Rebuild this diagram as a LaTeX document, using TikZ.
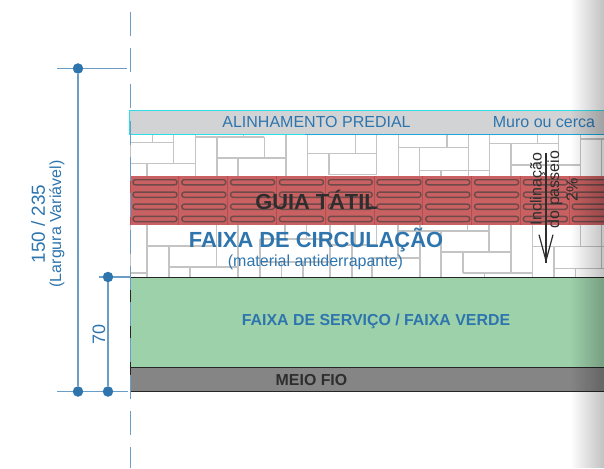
\documentclass[tikz,border=0pt]{standalone}
\usepackage{fontspec}
\setmainfont{Liberation Sans}
\usetikzlibrary{arrows.meta,fadings}

\definecolor{dimblue}{HTML}{2E75AE}
\definecolor{dimline}{HTML}{6A9DC8}
\definecolor{muroGray}{HTML}{D1D3D4}
\definecolor{muroEdge}{HTML}{2FDDE8}
\definecolor{muroEdgeb}{HTML}{1AA9DD}
\definecolor{jointGray}{HTML}{C4C4C4}
\definecolor{guiaRed}{HTML}{C96061}
\definecolor{guiaDark}{HTML}{B04E50}
\definecolor{pillEdge}{HTML}{6E4A4B}
\definecolor{verdeFill}{HTML}{9DD1AA}
\definecolor{meioGray}{HTML}{858585}
\definecolor{darkText}{HTML}{2E2E2E}

\tikzfading[name=pageedge, left color=transparent!100, right color=transparent!76]

\tikzset{
    dimdot/.style={circle, fill=dimblue, inner sep=0pt, minimum size=10.5pt},
    dimthin/.style={dimline, line width=1.1pt},
    joint/.style={jointGray, line width=1.2pt},
    pill/.style={pillEdge, line width=1.4pt, rounded corners=2.4pt},
    labelblue/.style={text=dimblue, inner sep=0pt},
    labeldark/.style={text=darkText, inner sep=0pt},
    slopetext/.style={text=darkText, inner sep=0pt, rotate=90, font=\fontsize{16}{16}\selectfont},
}

\begin{document}
\begin{tikzpicture}[x=1pt, y=-1pt]
    \useasboundingbox (0,0) rectangle (604,468);

    % Paving joints, upper band
    \foreach \xa/\ya/\yb in {130.5/134/277, 152.3/134/142, 173.3/134/163.5, 147/163.5/176, 195.5/134/176, 243.3/134/137,
        217/137/176, 264.3/137/158, 286/134/176, 238/158/176, 307.7/134/176, 355.7/134/153.3, 329/153.3/174.5,
        376.7/134/174.5, 398.3/134/176, 447/134/147.7, 468.3/134/176, 419.7/147.7/176, 441/170.7/176,
        489.3/134/176, 537.7/134/143.7, 511/143.7/176, 558.3/134/165, 580.5/134/176, 601.5/139/176}
        \draw[joint] (\xa,\ya) -- (\xa,\yb);
    \foreach \ya/\xa/\xb in {142.3/130/173.3, 163.5/130/195.5, 137/195.5/264.3, 158/217/286, 153.3/307.7/376.7,
        174.5/329/376.7, 147.7/398.3/468.3, 170.7/419.7/489.3, 143.7/489.3/558.3, 165/511/580.5, 139/580.5/604}
        \draw[joint] (\xa,\ya) -- (\xb,\ya);

    % Paving joints, lower band
    \foreach \xa/\ya/\yb in {147/225/277, 169/246/277, 190/267/277, 216.7/225/267, 238/225/277, 260/239/277,
        281.7/262/277, 303/262/277, 285/225/239, 306.7/225/239, 330/225/277, 352/245/277, 372/258/277, 355/225/245,
        376.7/225/245, 398/225/258, 420/225/277, 441/231/277, 467.7/225/231, 489/225/252, 463/252/273,
        484.7/273/277, 511/225/273, 532.7/225/277, 580.5/225/246.7, 554/246.7/277, 575.7/268.7/277, 601.5/225/268.7}
        \draw[joint] (\xa,\ya) -- (\xa,\yb);
    \foreach \ya/\xa/\xb in {273/130/147, 246/147/216.7, 267/169/238, 239/260/330, 262/260/330, 245/330/376.7,
        258/372/420, 231/398/489, 252/441/511, 273/463/532.7, 246.7/532.7/604, 268.7/554/604}
        \draw[joint] (\xa,\ya) -- (\xb,\ya);

    % Tactile band
    \fill[guiaRed] (130,176) rectangle (604,225);
    \foreach \k in {0,...,9} {
        \draw[guiaDark, line width=0.8pt] ({130+48.8*\k},176) -- ({130+48.8*\k},225);
        \foreach \ypill in {182.3,194.7,206.7,219}
            \draw[pill] ({133+48.8*\k},\ypill-2.6) rectangle ({177+48.8*\k},\ypill+2.6);
    }

    % Bands
    \draw[muroEdge, fill=muroGray, line width=1pt] (129.5,110.5) rectangle (610,134);
    \draw[muroEdgeb, line width=1pt] (305,134) -- (604,134);
    \draw[black!85, fill=verdeFill, line width=0.9pt] (130.5,277) rectangle (610,367.5);
    \draw[black!85, fill=meioGray, line width=0.9pt] (130.5,367.5) rectangle (610,391.5);

    % Center line
    \draw[dimthin, dash pattern=on 24pt off 12.3pt] (130.5,11.7) -- (130.5,468);

    % Dimension lines
    \node[dimdot] (topdot) at (78,68.5) {};
    \node[dimdot] (basedot) at (78,391.5) {};
    \node[dimdot] (basedotb) at (108,391.5) {};
    \node[dimdot] (middot) at (108,277) {};
    \coordinate (topleft) at (57,68.5);
    \coordinate (topright) at (127,68.5);
    \coordinate (baseleft) at (57,391.5);
    \coordinate (baseright) at (128,391.5);
    \coordinate (midleft) at (99,277);
    \coordinate (midright) at (130,277);
    \draw[dimthin] (topleft) -- (topdot) -- (topright);
    \draw[dimthin] (baseleft) -- (basedot) -- (basedotb) -- (baseright);
    \draw[dimthin] (midleft) -- (middot) -- (midright);
    \draw[dimthin] (topdot) -- (basedot);
    \draw[dimthin] (middot) -- (basedotb);

    % Texts
    \node[labelblue, font=\fontsize{16}{16}\selectfont] (predial) at (316.5,122) {ALINHAMENTO PREDIAL};
    \node[labelblue, font=\fontsize{16}{16}\selectfont] (muro) at (544,122) {Muro ou cerca};
    \node[labeldark, font=\fontsize{21.8}{21.8}\selectfont\bfseries] (guia) at (316.5,199.5) {GUIA TÁTIL};
    \node[labelblue, font=\fontsize{21.9}{21.9}\selectfont\bfseries] (circulacao) at (316,240) {FAIXA DE CIRCULAÇÃO};
    \node[labelblue, font=\fontsize{16}{16}\selectfont] (material) at (315.5,262) {(material antiderrapante)};
    \node[labelblue, font=\fontsize{15.9}{15.9}\selectfont\bfseries] (servico) at (376,321) {FAIXA DE SERVIÇO / FAIXA VERDE};
    \node[labeldark, font=\fontsize{15.9}{15.9}\selectfont\bfseries] (meio) at (311.5,380) {MEIO FIO};
    \node[labelblue, rotate=90, font=\fontsize{18.9}{18.9}\selectfont] (largura) at (38,224) {150 / 235};
    \node[labelblue, rotate=90, font=\fontsize{16}{16}\selectfont] (variavel) at (57,224) {(Largura Variável)};
    \node[labelblue, rotate=90, font=\fontsize{18}{18}\selectfont] (setenta) at (99,334.5) {70};

    % Slope
    \node[slopetext] (inclinacao) at (537.5,189) {Inclinação};
    \node[slopetext] (passeio) at (555,189.5) {do passeio};
    \node[slopetext] (porcento) at (572,190) {2\%};
    \coordinate (slopetop) at (546,153);
    \coordinate (slopeend) at (546,263);
    \draw[darkText, line width=1.2pt] (slopetop) -- (slopeend);
    \draw[-{Straight Barb[length=26pt,width=14pt,line width=1.2pt]}, darkText, line width=1.2pt] (slopetop) -- (slopeend);

    % Page edge shadow
    \fill[black, path fading=pageedge] (570,0) rectangle (604,468);
\end{tikzpicture}
\end{document}
